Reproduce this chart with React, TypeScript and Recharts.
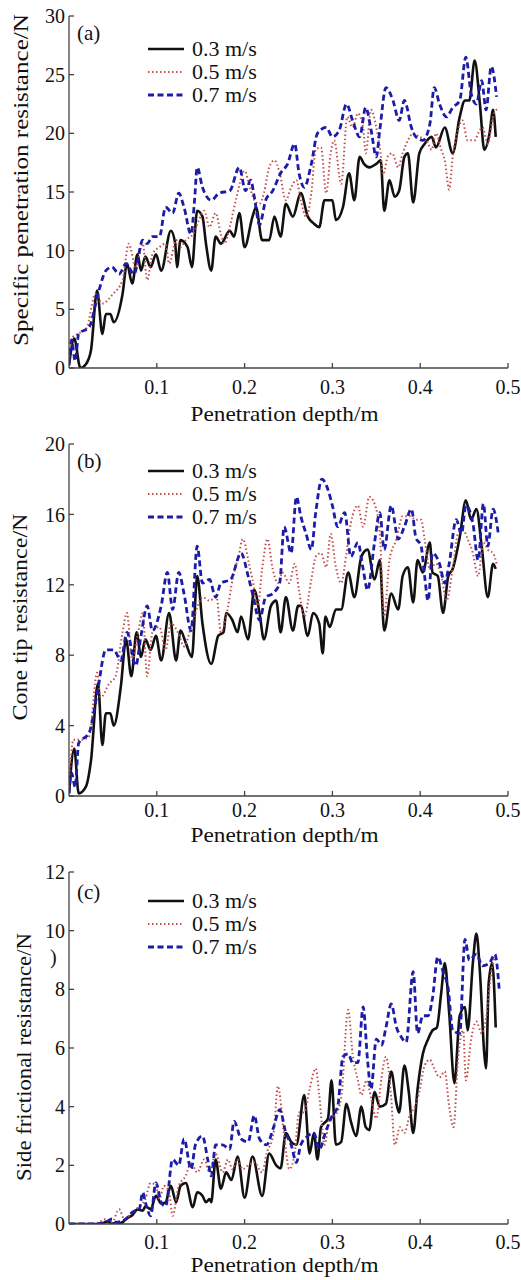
import React from "react";
import { LineChart, Line, XAxis, YAxis, Legend } from "recharts";

type Pt = [number, number];

const speeds = ["0.3 m/s", "0.5 m/s", "0.7 m/s"];
const depthTicks = [0.1, 0.2, 0.3, 0.4, 0.5];

// (a) specific penetration resistance, N
const specificTicks = [0, 5, 10, 15, 20, 25, 30];
const specific03: Pt[] = [[0,0.2],[0.006,2.5],[0.013,0],[0.019,0.3],[0.025,1.5],[0.032,6.6],[0.038,2.9],[0.042,4.6],[0.047,4.6],[0.051,3.9],[0.061,6.3],[0.066,8.9],[0.072,7.2],[0.078,9.7],[0.082,8.3],[0.087,9.5],[0.093,8.6],[0.099,9.7],[0.105,8.3],[0.116,11.7],[0.121,10.6],[0.123,8.6],[0.127,10.9],[0.135,10.3],[0.14,8.6],[0.146,13.4],[0.152,12.9],[0.156,10.6],[0.162,8.3],[0.167,11.2],[0.173,10.6],[0.183,11.7],[0.188,11.2],[0.194,13.2],[0.2,10.3],[0.209,12.9],[0.213,13.7],[0.22,10.9],[0.228,10.9],[0.234,12.9],[0.241,11.2],[0.247,14.0],[0.255,12.9],[0.264,14.9],[0.272,12.9],[0.279,12.3],[0.285,12.0],[0.291,14.3],[0.3,14.3],[0.304,12.6],[0.312,13.7],[0.319,16.6],[0.325,14.3],[0.331,18.0],[0.336,17.4],[0.342,17.1],[0.35,17.4],[0.355,17.7],[0.359,13.4],[0.365,16.0],[0.371,14.6],[0.376,15.1],[0.382,18.0],[0.386,18.3],[0.392,14.1],[0.399,18.3],[0.405,19.1],[0.413,19.7],[0.418,18.8],[0.428,20.5],[0.437,18.3],[0.445,21.4],[0.451,22.8],[0.456,22.8],[0.462,26.2],[0.468,22.5],[0.473,18.6],[0.479,20.0],[0.483,22.0],[0.486,19.7]];
const specific05: Pt[] = [[0,0.6],[0.004,2.6],[0.01,2.9],[0.02,3.4],[0.03,6.3],[0.038,5.5],[0.05,6.3],[0.061,7.5],[0.068,10.6],[0.076,8.6],[0.084,10.6],[0.089,7.5],[0.095,9.7],[0.103,10.3],[0.11,10.6],[0.114,8.9],[0.122,10.9],[0.127,10.3],[0.133,10.9],[0.141,11.4],[0.148,12.6],[0.154,13.4],[0.16,12.0],[0.167,13.2],[0.173,11.4],[0.177,10.6],[0.183,12.0],[0.19,14.3],[0.2,16.8],[0.205,15.7],[0.211,14.3],[0.217,14.0],[0.222,14.9],[0.228,17.1],[0.234,17.7],[0.24,16.6],[0.247,14.3],[0.253,15.4],[0.259,16.0],[0.264,14.3],[0.27,12.9],[0.276,14.9],[0.281,18.6],[0.287,18.8],[0.293,14.9],[0.298,18.3],[0.302,19.4],[0.31,15.7],[0.317,21.4],[0.323,20.5],[0.329,21.7],[0.335,20.5],[0.338,18.3],[0.344,22.0],[0.35,20.5],[0.354,18.8],[0.358,16.5],[0.363,18.0],[0.368,18.3],[0.375,17.1],[0.38,18.3],[0.386,19.4],[0.392,20.0],[0.399,19.7],[0.407,19.4],[0.413,18.6],[0.418,20.0],[0.424,18.6],[0.428,17.7],[0.433,15.2],[0.437,18.0],[0.442,20.0],[0.448,21.1],[0.454,19.4],[0.462,19.4],[0.466,20.0],[0.471,20.5],[0.477,19.1],[0.483,21.4],[0.489,22.2]];
const specific07: Pt[] = [[0,0.4],[0.003,2.4],[0.007,0.6],[0.011,2.9],[0.023,3.5],[0.034,6.6],[0.042,8.3],[0.049,8.6],[0.057,8.0],[0.065,8.9],[0.074,8.0],[0.084,10.9],[0.089,10.6],[0.095,11.2],[0.103,11.2],[0.11,13.7],[0.118,13.2],[0.125,14.9],[0.131,13.7],[0.139,11.4],[0.143,14.3],[0.146,17.1],[0.152,15.4],[0.162,14.3],[0.171,14.9],[0.183,15.1],[0.194,17.1],[0.201,15.1],[0.207,16.0],[0.211,14.6],[0.217,12.2],[0.224,14.3],[0.232,15.1],[0.241,16.6],[0.249,17.4],[0.257,19.1],[0.262,16.6],[0.268,15.4],[0.276,17.4],[0.283,20.0],[0.293,20.5],[0.3,19.7],[0.308,20.3],[0.316,22.5],[0.323,21.1],[0.331,19.7],[0.338,22.2],[0.344,20.3],[0.35,18.0],[0.354,20.3],[0.361,23.9],[0.369,22.8],[0.376,21.1],[0.382,22.8],[0.39,20.5],[0.395,19.7],[0.403,19.4],[0.411,20.8],[0.416,23.9],[0.422,22.5],[0.43,21.4],[0.437,22.2],[0.445,22.8],[0.452,26.5],[0.458,23.4],[0.464,22.5],[0.47,24.5],[0.475,22.0],[0.481,25.7],[0.487,23.1]];

// (b) cone tip resistance, N
const coneTicks = [0, 4, 8, 12, 16, 20];
const cone03: Pt[] = [[0,0.15],[0.006,2.7],[0.011,0.15],[0.019,0.5],[0.025,2.0],[0.033,6.4],[0.038,2.9],[0.042,4.7],[0.047,4.7],[0.051,4.0],[0.059,6.2],[0.065,8.9],[0.071,6.8],[0.077,9.3],[0.082,7.9],[0.087,8.9],[0.093,8.3],[0.099,9.1],[0.105,7.7],[0.114,10.4],[0.122,7.7],[0.127,9.4],[0.133,8.7],[0.14,7.9],[0.146,12.5],[0.152,9.8],[0.162,7.5],[0.17,9.1],[0.176,9.3],[0.179,10.4],[0.186,10.0],[0.192,9.3],[0.196,10.2],[0.204,8.9],[0.211,11.7],[0.217,10.4],[0.222,8.9],[0.23,10.8],[0.236,11.1],[0.241,9.3],[0.247,11.3],[0.255,9.4],[0.261,10.8],[0.264,10.8],[0.272,9.1],[0.278,10.4],[0.285,9.8],[0.289,8.1],[0.292,10.2],[0.297,9.6],[0.304,10.6],[0.31,10.6],[0.318,12.7],[0.325,11.3],[0.333,13.6],[0.34,14.0],[0.348,12.3],[0.354,13.4],[0.359,9.4],[0.367,11.5],[0.375,10.6],[0.38,12.5],[0.386,13.0],[0.392,11.0],[0.397,13.4],[0.403,12.7],[0.411,14.4],[0.414,12.7],[0.42,12.5],[0.426,10.4],[0.432,12.5],[0.437,12.9],[0.445,14.7],[0.452,16.8],[0.458,15.7],[0.464,16.3],[0.47,14.2],[0.477,11.3],[0.483,13.2],[0.486,12.9]];
const cone05: Pt[] = [[0,0.5],[0.005,3.2],[0.015,3.2],[0.023,3.4],[0.032,7.0],[0.036,5.6],[0.046,6.4],[0.053,6.8],[0.061,9.3],[0.066,10.4],[0.072,7.7],[0.078,9.1],[0.084,10.4],[0.089,6.8],[0.095,9.3],[0.103,9.6],[0.11,8.3],[0.116,9.8],[0.124,9.3],[0.131,8.5],[0.139,9.6],[0.144,10.4],[0.152,11.3],[0.16,11.1],[0.168,11.3],[0.173,9.3],[0.179,10.2],[0.187,12.5],[0.193,13.6],[0.198,14.6],[0.205,13.2],[0.209,12.3],[0.215,10.8],[0.22,12.9],[0.226,14.6],[0.232,12.9],[0.238,12.1],[0.243,12.7],[0.251,12.1],[0.257,13.2],[0.262,11.7],[0.268,10.2],[0.276,12.3],[0.281,13.6],[0.287,13.8],[0.293,13.0],[0.298,14.9],[0.304,13.0],[0.31,12.1],[0.316,13.8],[0.321,15.5],[0.329,16.5],[0.335,15.3],[0.342,17.0],[0.348,16.6],[0.354,14.9],[0.359,10.2],[0.365,13.4],[0.373,14.6],[0.38,15.9],[0.388,15.9],[0.395,15.7],[0.401,15.7],[0.405,14.6],[0.411,12.9],[0.418,13.2],[0.424,12.5],[0.43,11.1],[0.437,12.9],[0.443,14.9],[0.449,15.1],[0.454,14.6],[0.46,13.8],[0.466,12.5],[0.472,14.4],[0.477,14.0],[0.483,13.8],[0.487,13.2]];
const cone07: Pt[] = [[0,0.15],[0.003,1.3],[0.007,0.5],[0.011,3.0],[0.023,3.6],[0.032,5.8],[0.042,8.3],[0.051,8.3],[0.059,7.7],[0.066,9.3],[0.076,7.4],[0.082,9.1],[0.089,10.8],[0.095,9.4],[0.105,10.8],[0.112,12.7],[0.118,10.6],[0.125,12.7],[0.131,11.5],[0.139,9.4],[0.146,14.2],[0.152,12.1],[0.16,12.3],[0.167,11.3],[0.173,12.1],[0.184,12.3],[0.196,13.8],[0.204,12.5],[0.209,11.5],[0.217,10.0],[0.224,11.3],[0.232,11.5],[0.24,12.1],[0.245,15.3],[0.253,13.8],[0.259,17.0],[0.264,15.9],[0.27,14.9],[0.276,14.0],[0.281,16.1],[0.288,18.0],[0.295,17.4],[0.3,16.5],[0.306,15.3],[0.314,16.1],[0.321,13.6],[0.329,14.4],[0.335,12.9],[0.34,11.7],[0.348,14.4],[0.354,16.1],[0.359,14.0],[0.367,16.5],[0.375,14.6],[0.382,15.3],[0.39,16.3],[0.395,14.7],[0.401,14.2],[0.405,12.5],[0.409,11.1],[0.414,13.8],[0.422,13.2],[0.428,12.1],[0.433,13.2],[0.441,15.7],[0.447,14.9],[0.452,16.5],[0.46,15.5],[0.466,13.4],[0.472,16.6],[0.477,14.2],[0.483,16.3],[0.489,14.9]];

// (c) side frictional resistance, N
const sideTicks = [0, 2, 4, 6, 8, 10, 12];
const side03: Pt[] = [[0,0],[0.038,0],[0.042,0.08],[0.053,0],[0.061,0.06],[0.066,0.2],[0.072,0.3],[0.078,0.5],[0.084,0.45],[0.087,0.6],[0.093,0.5],[0.099,0.96],[0.105,0.7],[0.11,0.74],[0.116,1.3],[0.122,0.74],[0.127,1.3],[0.133,1.4],[0.141,0.57],[0.146,1.08],[0.152,0.96],[0.156,0.74],[0.16,0.85],[0.162,0.74],[0.167,2.2],[0.173,1.2],[0.179,1.76],[0.185,1.5],[0.192,2.3],[0.2,0.9],[0.209,2.3],[0.22,0.96],[0.228,2.4],[0.236,2.0],[0.241,1.9],[0.247,3.1],[0.253,2.8],[0.259,2.7],[0.268,4.4],[0.274,2.4],[0.279,3.1],[0.283,2.2],[0.287,3.3],[0.295,3.6],[0.299,4.9],[0.304,2.7],[0.31,2.8],[0.316,4.1],[0.321,3.5],[0.327,3.0],[0.333,4.0],[0.338,3.3],[0.342,3.2],[0.348,4.5],[0.354,4.0],[0.361,4.1],[0.367,5.2],[0.373,4.1],[0.376,3.8],[0.382,5.4],[0.387,4.5],[0.392,3.1],[0.397,4.6],[0.403,5.8],[0.409,6.3],[0.414,6.6],[0.419,6.7],[0.424,7.9],[0.428,8.9],[0.433,7.2],[0.439,4.8],[0.445,7.1],[0.451,7.4],[0.454,6.6],[0.46,8.9],[0.464,9.9],[0.468,8.6],[0.473,5.8],[0.475,5.3],[0.478,8.2],[0.482,8.9],[0.486,6.7]];
const side05: Pt[] = [[0,0],[0.03,0],[0.034,0.06],[0.042,0.17],[0.049,0.06],[0.057,0.5],[0.063,0.17],[0.072,0.4],[0.08,0.6],[0.087,0.85],[0.093,1.4],[0.099,1.3],[0.103,0.85],[0.108,1.3],[0.114,1.08],[0.118,0.28],[0.125,1.3],[0.133,1.64],[0.139,2.1],[0.146,1.76],[0.154,2.2],[0.16,1.76],[0.167,2.4],[0.175,1.76],[0.181,2.2],[0.186,1.87],[0.192,2.2],[0.198,1.87],[0.204,2.0],[0.211,2.1],[0.22,1.76],[0.225,2.4],[0.233,3.1],[0.238,4.7],[0.245,3.0],[0.251,1.87],[0.257,2.4],[0.262,3.8],[0.268,3.8],[0.274,4.6],[0.281,5.3],[0.285,4.4],[0.291,2.7],[0.297,3.6],[0.303,3.7],[0.31,4.3],[0.318,7.3],[0.323,5.8],[0.329,4.9],[0.333,4.4],[0.339,4.9],[0.344,4.3],[0.35,3.6],[0.356,5.0],[0.361,5.7],[0.367,4.3],[0.371,2.7],[0.377,3.3],[0.382,3.1],[0.388,3.7],[0.394,4.0],[0.399,4.5],[0.405,5.4],[0.411,5.6],[0.416,5.3],[0.422,5.0],[0.428,5.2],[0.433,4.0],[0.438,3.3],[0.443,5.6],[0.449,6.6],[0.452,4.9],[0.458,6.3],[0.464,6.9],[0.47,6.5],[0.475,7.0],[0.481,8.6],[0.485,9.1]];
const side07: Pt[] = [[0,0],[0.025,0],[0.042,0.06],[0.049,0.17],[0.053,0.06],[0.065,0.17],[0.072,0.4],[0.08,0.5],[0.084,1.08],[0.087,0.74],[0.093,0.28],[0.099,1.4],[0.105,0.74],[0.11,0.6],[0.118,2.2],[0.125,2.0],[0.131,2.9],[0.139,1.87],[0.144,2.7],[0.152,3.0],[0.158,2.2],[0.162,1.64],[0.167,2.7],[0.175,2.7],[0.183,2.55],[0.188,3.5],[0.196,2.9],[0.204,2.8],[0.211,3.7],[0.217,2.9],[0.225,2.7],[0.233,3.3],[0.24,3.9],[0.247,3.1],[0.253,2.7],[0.259,2.1],[0.264,2.7],[0.272,3.0],[0.279,3.1],[0.285,2.55],[0.293,3.2],[0.3,3.7],[0.306,4.0],[0.312,5.7],[0.318,5.8],[0.323,5.5],[0.329,5.5],[0.335,7.4],[0.34,5.6],[0.344,4.6],[0.35,6.3],[0.356,6.1],[0.361,6.7],[0.367,7.5],[0.373,6.7],[0.378,6.4],[0.384,6.2],[0.392,8.6],[0.397,6.5],[0.403,7.1],[0.409,7.1],[0.414,7.7],[0.42,9.1],[0.426,8.6],[0.432,8.0],[0.437,6.6],[0.445,6.5],[0.451,9.7],[0.456,9.0],[0.464,9.2],[0.471,8.8],[0.479,8.9],[0.485,9.2],[0.49,8.0]];

const lineStyles = [
  { color: "#111111", width: 2.6, dash: undefined as string | undefined },
  { color: "#c0504d", width: 2, dash: "1.5 2.5" },
  { color: "#1c1ca8", width: 2.8, dash: "6 3.5" },
];

const serif = "'Liberation Serif', 'Times New Roman', serif";
const axisColor = "#444";

const renderLegend = () => (
  <div style={{ fontFamily: serif, fontSize: 22, color: "#111" }}>
    {speeds.map((s, i) => (
      <div key={s} style={{ display: "flex", alignItems: "center", height: 23 }}>
        <svg width={38} height={10} style={{ marginRight: 7 }}>
          <line
            x1={1}
            x2={37}
            y1={5}
            y2={5}
            stroke={lineStyles[i].color}
            strokeWidth={lineStyles[i].width}
            strokeDasharray={lineStyles[i].dash}
          />
        </svg>
        <span>{s}</span>
      </div>
    ))}
  </div>
);

type PanelProps = {
  tag: string;
  yLabel: string;
  yLabelLength: number;
  yTicks: number[];
  series: Pt[][];
  yLabelDy: number;
  yLabelDx: number;
  xTickMargin: number;
  xLabelOffset: number;
  legendTop: number;
  tagTop: number;
};

function Panel(p: PanelProps) {
  const yMax = p.yTicks[p.yTicks.length - 1];
  return (
    <div style={{ position: "relative", width: 521, height: 428, fontFamily: serif }}>
      <LineChart width={521} height={428} margin={{ top: 16, right: 13, bottom: 0, left: 0 }}>
        <XAxis
          dataKey="d"
          type="number"
          domain={[0, 0.5]}
          ticks={depthTicks}
          interval={0}
          height={60}
          tickSize={-5}
          tickMargin={p.xTickMargin}
          tick={{ fontSize: 20, fill: "#111", fontFamily: serif }}
          stroke={axisColor}
          strokeWidth={1.3}
          allowDataOverflow
          label={{
            value: "Penetration depth/m",
            position: "insideBottom",
            offset: p.xLabelOffset,
            dx: -4,
            fontSize: 21,
            textLength: 188,
            lengthAdjust: "spacingAndGlyphs",
            fill: "#111",
            fontFamily: serif,
          }}
        />
        <XAxis
          xAxisId="top"
          orientation="top"
          type="number"
          domain={[0, 0.5]}
          height={0}
          tick={false}
          tickLine={false}
          stroke={axisColor}
          strokeWidth={1.3}
        />
        <YAxis
          type="number"
          domain={[0, yMax]}
          ticks={p.yTicks}
          interval={0}
          width={69}
          tickSize={-5}
          tickMargin={9}
          tick={{ fontSize: 20, fill: "#111", fontFamily: serif }}
          stroke={axisColor}
          strokeWidth={1.3}
          allowDataOverflow
          label={{
            value: p.yLabel,
            angle: -90,
            position: "center",
            dx: p.yLabelDx,
            dy: p.yLabelDy,
            fontSize: 21,
            textLength: p.yLabelLength,
            lengthAdjust: "spacingAndGlyphs",
            fill: "#111",
            fontFamily: serif,
          }}
        />
        <YAxis
          yAxisId="right"
          orientation="right"
          type="number"
          domain={[0, yMax]}
          width={0}
          tick={false}
          tickLine={false}
          stroke={axisColor}
          strokeWidth={1.3}
        />
        <Legend
          content={renderLegend}
          layout="vertical"
          align="center"
          verticalAlign="middle"
          wrapperStyle={{ left: 147, top: p.legendTop, width: 140 }}
        />
        {p.series.map((pts, i) => (
          <Line
            key={speeds[i]}
            name={speeds[i]}
            data={pts.map(([d, v]) => ({ d, v }))}
            dataKey="v"
            type="monotone"
            stroke={lineStyles[i].color}
            strokeWidth={lineStyles[i].width}
            strokeDasharray={lineStyles[i].dash}
            dot={false}
            activeDot={false}
            isAnimationActive={false}
          />
        ))}
      </LineChart>
      <div style={{ position: "absolute", left: 77, top: p.tagTop, fontSize: 21, lineHeight: "22px", color: "#111" }}>
        {p.tag}
      </div>
    </div>
  );
}

export default function App() {
  return (
    <div style={{ width: 521, background: "#fff" }}>
      <style>{"body{margin:0}"}</style>
      <Panel
        tag="(a)"
        yLabel="Specific penetration resistance/N"
        yLabelLength={332}
        yTicks={specificTicks}
        series={[specific03, specific05, specific07]}
        yLabelDx={-14}
        yLabelDy={-12}
        xTickMargin={17}
        xLabelOffset={7}
        legendTop={37}
        tagTop={22}
      />
      <Panel
        tag="(b)"
        yLabel="Cone tip resistance/N"
        yLabelLength={207}
        yTicks={coneTicks}
        series={[cone03, cone05, cone07]}
        yLabelDx={-15}
        yLabelDy={-3}
        xTickMargin={12}
        xLabelOffset={14}
        legendTop={31}
        tagTop={22}
      />
      <div style={{ position: "relative" }}>
        <Panel
          tag="(c)"
          yLabel="Side frictional resistance/N"
          yLabelLength={248}
          yTicks={sideTicks}
          series={[side03, side05, side07]}
          yLabelDx={-11}
          yLabelDy={9}
          xTickMargin={16}
          xLabelOffset={12}
          legendTop={33}
          tagTop={25}
        />
        <div style={{ position: "absolute", left: 50, top: 90, fontFamily: serif, fontSize: 20, color: "#111" }}>)</div>
      </div>
    </div>
  );
}
